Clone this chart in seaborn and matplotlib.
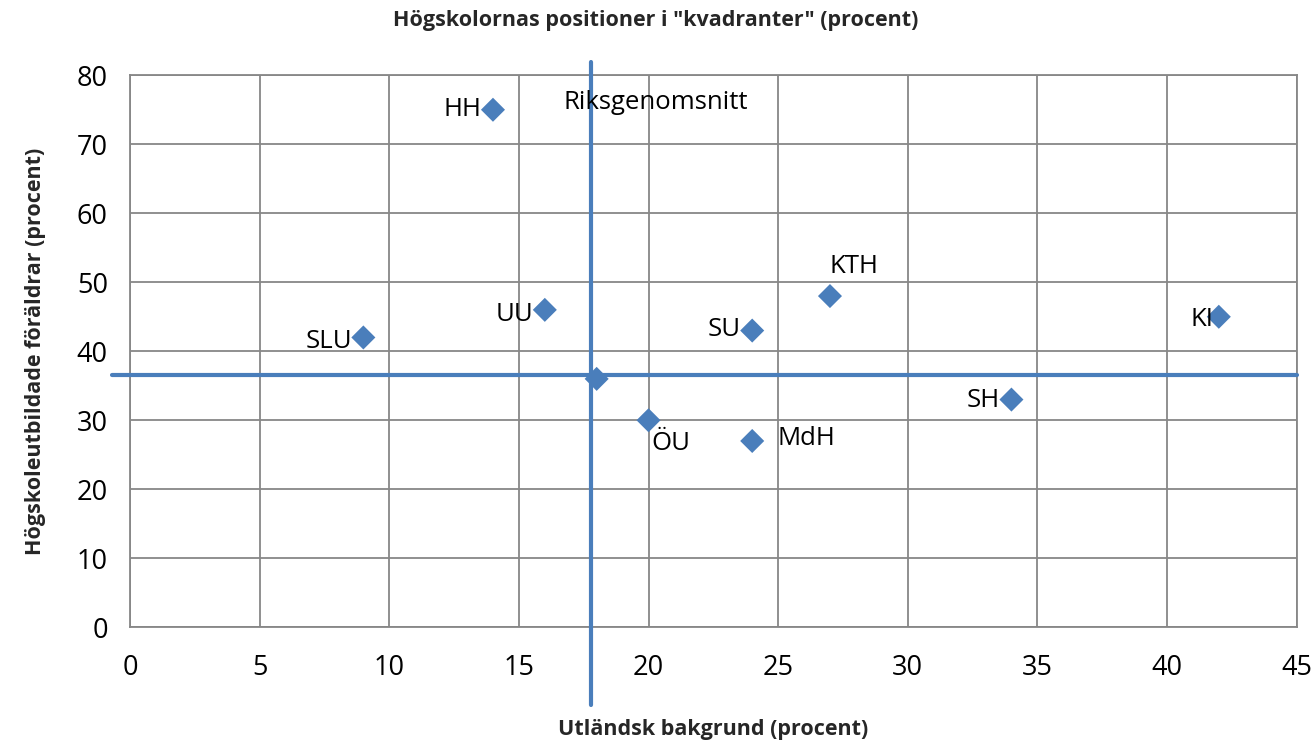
import numpy as np
import pandas as pd
import matplotlib
matplotlib.use("Agg")
import matplotlib.pyplot as plt
import seaborn as sns

# data
schools = ["HH", "UU", "SLU", "SU", "KTH", "KI", "SH", "ÖU", "MdH", "Riksgenomsnitt"]
utl_bakgrund = [14, 16, 9, 24, 27, 42, 34, 20, 24, 18]
hogsk_foraldrar = [75, 46, 42, 43, 48, 45, 33, 30, 27, 36]
# label offsets (points) and alignment
lab_dx = [-8, -8, -8, -8, 0, -4, -8, 2, 18, -24]
lab_dy = [0, -3, -3, 1, 21, -2, -1, -17, 2, 199]
lab_ha = ["right", "right", "right", "right", "left", "right", "right", "left", "left", "left"]
# average lines
riks_x = 17.8
riks_y = 36.6

df = pd.DataFrame({"school": schools, "x": utl_bakgrund, "y": hogsk_foraldrar})

sns.set_style("white")
plt.rcParams["font.family"] = ["Open Sans", "DejaVu Sans"]

blue = "#4a7ebb"
grid_c = "#878787"

fig = plt.figure(figsize=(13.11, 7.45), dpi=100)
ax = fig.add_axes([0.0992, 0.158, 0.8898, 0.741])

# average lines extending outside the plot area
ax.axvline(riks_x, ymin=-0.141, ymax=1.0235, color=blue, lw=3, clip_on=False, zorder=3)
ax.axhline(riks_y, xmin=-0.0154, xmax=1.0, color=blue, lw=3, clip_on=False, zorder=3)

sns.scatterplot(data=df, x="x", y="y", marker="D", s=150, color=blue,
                edgecolor="none", ax=ax, zorder=4, clip_on=False)

for name, x, y, dx, dy, ha in zip(schools, utl_bakgrund, hogsk_foraldrar, lab_dx, lab_dy, lab_ha):
    ax.annotate(name, (x, y), xytext=(dx, dy), textcoords="offset points",
                ha=ha, va="center", fontsize=18.5, color="black", zorder=5)

ax.set_xlim(0, 45)
ax.set_ylim(0, 80)
ax.set_xticks(np.arange(0, 46, 5))
ax.set_yticks(np.arange(0, 81, 10))
ax.tick_params(axis="both", length=0, labelsize=19.5, colors="black")
ax.tick_params(axis="x", pad=19)
ax.tick_params(axis="y", pad=16)
ax.grid(True, color=grid_c, lw=1.3)
ax.set_axisbelow(True)
for sp in ax.spines.values():
    sp.set_color(grid_c)
    sp.set_linewidth(1.3)

ax.set_xlabel("Utländsk bakgrund (procent)", fontsize=15.5, fontweight="bold", labelpad=27)
ax.set_ylabel("Högskoleutbildade föräldrar (procent)", fontsize=15.5, fontweight="bold", labelpad=22)
fig.text(0.5, 0.972, 'Högskolornas positioner i "kvadranter" (procent)', ha="center",
         va="center", fontsize=15.5, fontweight="bold")

fig.savefig("out.png", dpi=100)
